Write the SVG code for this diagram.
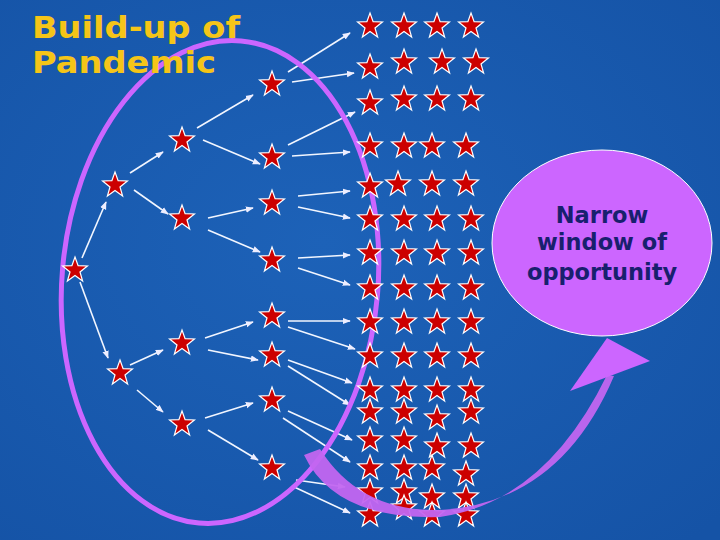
<svg xmlns="http://www.w3.org/2000/svg" xmlns:xlink="http://www.w3.org/1999/xlink" width="720" height="540" viewBox="0 0 720 540">
<defs>
<radialGradient id="bg" cx="0.45" cy="0.45" r="0.75"><stop offset="0" stop-color="#1d62b8"/><stop offset="1" stop-color="#1553a6"/></radialGradient>
<polygon id="s" points="0,-13 3.1,-4.3 12.4,-4 5,2 7.6,11 0,5.6 -7.6,11 -5,2 -12.4,-4 -3.1,-4.3" fill="#cc0000" stroke="#fff" stroke-width="1.2"/>
<marker id="a" viewBox="0 0 10 10" refX="9" refY="5" markerWidth="5" markerHeight="5" orient="auto"><path d="M0,1 L10,5 L0,9z" fill="#eef"/></marker>
<style>.ar line{stroke:#f2f6ff;stroke-width:1.6;marker-end:url(#a)} .t{font-family:"DejaVu Sans",sans-serif;font-weight:bold;font-size:31px;fill:#f5c518}</style>
</defs>
<rect width="720" height="540" fill="url(#bg)"/>
<g class="ar">
<line x1="82" y1="258" x2="106" y2="202"/><line x1="80" y1="282" x2="108" y2="358"/>
<line x1="130" y1="173" x2="163" y2="152"/><line x1="134" y1="190" x2="168" y2="214"/>
<line x1="130" y1="365" x2="163" y2="350"/><line x1="137" y1="390" x2="163" y2="412"/>
<line x1="197" y1="128" x2="253" y2="95"/><line x1="203" y1="140" x2="260" y2="164"/>
<line x1="208" y1="218" x2="253" y2="208"/><line x1="208" y1="230" x2="260" y2="252"/>
<line x1="205" y1="338" x2="253" y2="322"/><line x1="208" y1="350" x2="258" y2="360"/>
<line x1="205" y1="418" x2="253" y2="403"/><line x1="208" y1="430" x2="258" y2="460"/>
<line x1="288" y1="72" x2="350" y2="33"/><line x1="292" y1="82" x2="354" y2="73"/>
<line x1="288" y1="145" x2="355" y2="112"/><line x1="292" y1="156" x2="350" y2="152"/>
<line x1="298" y1="196" x2="350" y2="191"/><line x1="298" y1="207" x2="350" y2="218"/>
<line x1="298" y1="258" x2="350" y2="255"/><line x1="298" y1="268" x2="350" y2="285"/>
<line x1="288" y1="321" x2="350" y2="321"/><line x1="288" y1="327" x2="355" y2="349"/>
<line x1="288" y1="360" x2="352" y2="383"/><line x1="288" y1="366" x2="350" y2="405"/>
<line x1="288" y1="411" x2="352" y2="440"/><line x1="283" y1="418" x2="350" y2="462"/>
<line x1="296" y1="480" x2="345" y2="487"/><line x1="292" y1="486" x2="350" y2="513"/>
</g>
<ellipse cx="220" cy="282" rx="158" ry="242" transform="rotate(5 220 282)" fill="none" stroke="#cc66ff" stroke-width="5"/>
<g id="stars">
<use href="#s" x="75" y="270" fill="#e63a10"/>
<use href="#s" x="115" y="185"/><use href="#s" x="120" y="373"/>
<use href="#s" x="182" y="140"/><use href="#s" x="182" y="218"/><use href="#s" x="182" y="343"/><use href="#s" x="182" y="424"/>
<use href="#s" x="272" y="84"/><use href="#s" x="272" y="157"/><use href="#s" x="272" y="203"/><use href="#s" x="272" y="260"/>
<use href="#s" x="272" y="316"/><use href="#s" x="272" y="355"/><use href="#s" x="272" y="400"/><use href="#s" x="272" y="468"/>
<use href="#s" x="370" y="26"/><use href="#s" x="404" y="26"/><use href="#s" x="437" y="26"/><use href="#s" x="471" y="26"/>
<use href="#s" x="370" y="67"/><use href="#s" x="404" y="62"/><use href="#s" x="442" y="62"/><use href="#s" x="476" y="62"/>
<use href="#s" x="370" y="103"/><use href="#s" x="404" y="99"/><use href="#s" x="437" y="99"/><use href="#s" x="471" y="99"/>
<use href="#s" x="370" y="146"/><use href="#s" x="404" y="146"/><use href="#s" x="432" y="146"/><use href="#s" x="466" y="146"/>
<use href="#s" x="370" y="186"/><use href="#s" x="398" y="184"/><use href="#s" x="432" y="184"/><use href="#s" x="466" y="184"/>
<use href="#s" x="370" y="219"/><use href="#s" x="404" y="219"/><use href="#s" x="437" y="219"/><use href="#s" x="471" y="219"/>
<use href="#s" x="370" y="253"/><use href="#s" x="404" y="253"/><use href="#s" x="437" y="253"/><use href="#s" x="471" y="253"/>
<use href="#s" x="370" y="288"/><use href="#s" x="404" y="288"/><use href="#s" x="437" y="288"/><use href="#s" x="471" y="288"/>
<use href="#s" x="370" y="322"/><use href="#s" x="404" y="322"/><use href="#s" x="437" y="322"/><use href="#s" x="471" y="322"/>
<use href="#s" x="370" y="356"/><use href="#s" x="404" y="356"/><use href="#s" x="437" y="356"/><use href="#s" x="471" y="356"/>
<use href="#s" x="370" y="390"/><use href="#s" x="404" y="390"/><use href="#s" x="437" y="390"/><use href="#s" x="471" y="390"/>
<use href="#s" x="370" y="412"/><use href="#s" x="404" y="412"/><use href="#s" x="437" y="418"/><use href="#s" x="471" y="412"/>
<use href="#s" x="370" y="440"/><use href="#s" x="404" y="440"/><use href="#s" x="437" y="446"/><use href="#s" x="471" y="446"/>
<use href="#s" x="370" y="468"/><use href="#s" x="404" y="468"/><use href="#s" x="432" y="468"/><use href="#s" x="466" y="474"/>
<use href="#s" x="370" y="492"/><use href="#s" x="404" y="492"/><use href="#s" x="432" y="497"/><use href="#s" x="466" y="497"/>
<use href="#s" x="370" y="515"/><use href="#s" x="404" y="508"/><use href="#s" x="432" y="515"/><use href="#s" x="466" y="515"/>
</g>
<g id="arrow">
<path d="M304,455 L320,449 Q360,512 440,510 Q560,503 614,376 L607,375 Q545,502 440,517 Q335,520 304,455z" fill="#c266f0" opacity="0.95"/>
<polygon points="570,391 650,361 607,338" fill="#cc66ff"/>
</g>
<g id="window">
<ellipse cx="602" cy="243" rx="110" ry="93" fill="#cc66ff" stroke="#fff" stroke-width="1"/>
<text font-family="DejaVu Sans, sans-serif" font-weight="bold" font-size="22.5" fill="#18206e" text-anchor="middle"><tspan x="602" y="223">Narrow</tspan><tspan x="602" y="250">window of</tspan><tspan x="602" y="280">opportunity</tspan></text>
</g>
<text class="t" x="32" y="38" textLength="208" lengthAdjust="spacingAndGlyphs">Build-up of</text>
<text class="t" x="32" y="73" textLength="184" lengthAdjust="spacingAndGlyphs">Pandemic</text>
</svg>
